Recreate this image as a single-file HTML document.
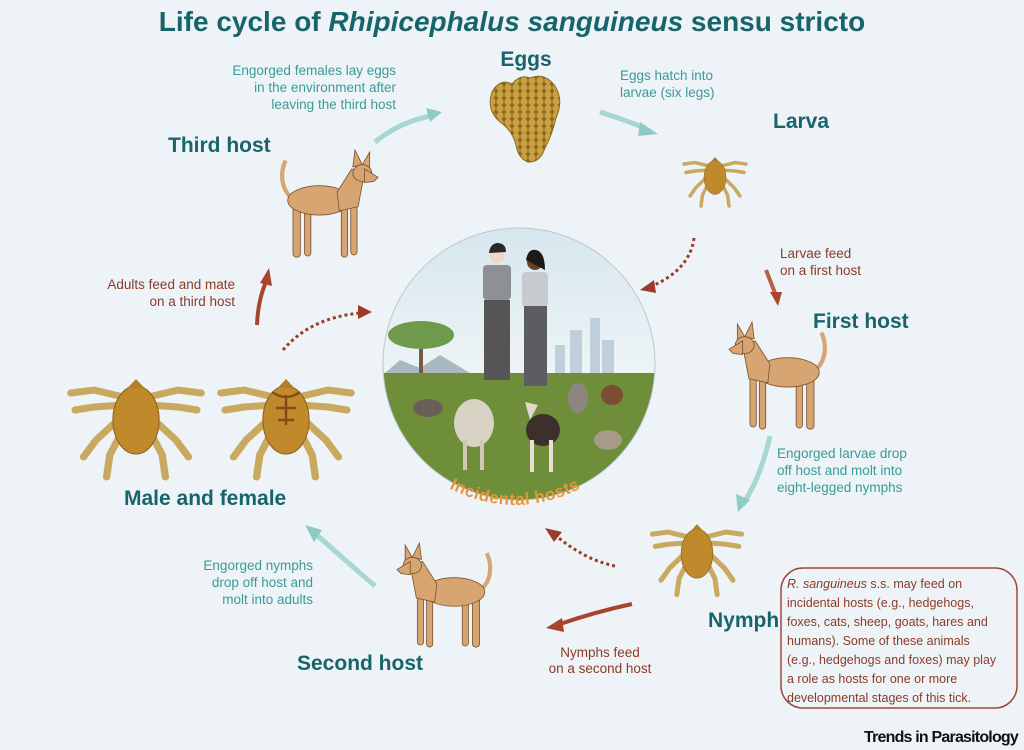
<!DOCTYPE html>
<html><head><meta charset="utf-8"><style>
html,body{margin:0;padding:0;background:#eef3f8;}
svg{display:block;font-family:"Liberation Sans",Arial,sans-serif;}
.tl{fill:#17656a;font-weight:bold;font-size:21px;}
.tt{fill:#3a9a97;font-size:13.5px;}
.rt{fill:#8a3b25;font-size:13.5px;}
</style></head><body>
<svg width="1024" height="750" viewBox="0 0 1024 750" xmlns="http://www.w3.org/2000/svg">
<defs>
<linearGradient id="sky" x1="0" y1="0" x2="0" y2="1"><stop offset="0" stop-color="#d6e6ee"/><stop offset="1" stop-color="#eef4f6"/></linearGradient>
<pattern id="egg" x="0" y="0" width="8" height="7" patternUnits="userSpaceOnUse">
 <rect width="8" height="7" fill="#8a6a20"/>
 <circle cx="4" cy="3.5" r="3.6" fill="#caa040"/>
</pattern>
<clipPath id="cc"><circle cx="519" cy="364" r="136"/></clipPath>
<g id="dog">
 <g fill="#d7a571" stroke="#7a5430" stroke-width="0.8">
 <path d="M17 44 C8 35 8 20 13 10" fill="none" stroke="#d7a571" stroke-width="4"/>
 <rect x="20" y="52" width="7" height="50" rx="3"/>
 <rect x="31" y="55" width="6" height="46" rx="3"/>
 <rect x="66" y="52" width="6" height="50" rx="3"/>
 <rect x="75" y="52" width="6" height="48" rx="3"/>
 <ellipse cx="45" cy="48" rx="30" ry="14"/>
 <path d="M62 40 L76 18 L88 22 L82 54 L64 58Z"/>
 <path d="M77 16 L79 0 L86 14Z"/>
 <path d="M86 14 L93 2 L93 18Z"/>
 <ellipse cx="86" cy="22" rx="9" ry="8"/>
 <path d="M88 18 L101 26 L97 30 L88 31Z"/>
 </g>
</g>
<g id="tick">
 <g stroke="#c9a860" stroke-width="7" stroke-linecap="round" fill="none">
  <path d="M-12 -18 L-40 -25 L-62 -22"/><path d="M12 -18 L40 -25 L62 -22"/>
  <path d="M-12 -10 L-40 -8 L-58 -5"/><path d="M12 -10 L40 -8 L58 -5"/>
  <path d="M-12 0 L-38 25 L-50 42"/><path d="M12 0 L38 25 L50 42"/>
  <path d="M-10 10 L-25 40 L-28 62"/><path d="M10 10 L25 40 L28 62"/>
 </g>
 <ellipse cx="0" cy="5" rx="22" ry="34" fill="#c08a2c" stroke="#8b6020" stroke-width="1"/>
 <path d="M-8 -27 L0 -36 L8 -27Z" fill="#b07f28"/>
</g>
</defs>
<rect width="1024" height="750" fill="#eef3f8"/>

<text x="512" y="31" text-anchor="middle" style="fill:#17656a;font-weight:bold;font-size:28px">Life cycle of <tspan font-style="italic">Rhipicephalus sanguineus</tspan> sensu stricto</text>

<!-- Eggs -->
<text x="526" y="66" text-anchor="middle" class="tl">Eggs</text>
<path d="M492 92 Q500 78 512 84 Q520 74 530 78 Q545 72 555 86 Q564 100 556 118 Q552 135 545 148 Q540 163 528 162 Q518 158 516 145 Q512 130 500 122 Q486 110 492 92Z" fill="url(#egg)" stroke="#8a6a20" stroke-width="1"/>

<text class="tt" text-anchor="end"><tspan x="396" y="75">Engorged females lay eggs</tspan><tspan x="396" y="92">in the environment after</tspan><tspan x="396" y="109">leaving the third host</tspan></text>
<path d="M375 142 Q400 122 430 116" stroke="#a8d6d3" stroke-width="5" fill="none"/>
<path d="M442 112 L426 108 L430 122Z" fill="#8fcac6"/>

<text class="tt"><tspan x="620" y="80">Eggs hatch into</tspan><tspan x="620" y="97">larvae (six legs)</tspan></text>
<path d="M600 112 Q625 120 645 128" stroke="#a8d6d3" stroke-width="5" fill="none"/>
<path d="M658 134 L640 122 L638 136Z" fill="#8fcac6"/>

<text x="773" y="128" class="tl">Larva</text>
<g transform="translate(715,175) scale(0.5)"><use href="#tick"/></g>

<path d="M694 238 Q690 270 650 287" stroke="#9b3b28" stroke-width="3" stroke-dasharray="3 3" fill="none"/>
<path d="M640 290 L654 280 L656 293Z" fill="#9b3b28"/>

<text class="rt"><tspan x="780" y="258">Larvae feed</tspan><tspan x="780" y="275">on a first host</tspan></text>
<path d="M766 270 Q772 285 776 296" stroke="#b5604a" stroke-width="4" fill="none"/>
<path d="M778 306 L770 292 L782 292Z" fill="#a8452c"/>

<text x="813" y="328" class="tl">First host</text>
<g transform="translate(835,322) scale(-1.05,1.05)"><use href="#dog"/></g>

<path d="M770 436 Q760 480 742 505" stroke="#a8d6d3" stroke-width="5" fill="none"/>
<path d="M738 512 L736 494 L750 500Z" fill="#8fcac6"/>
<text class="tt"><tspan x="777" y="458">Engorged larvae drop</tspan><tspan x="777" y="475">off host and molt into</tspan><tspan x="777" y="492">eight-legged nymphs</tspan></text>

<g transform="translate(697,550) scale(0.72)"><use href="#tick"/></g>
<text x="708" y="627" class="tl">Nymph</text>

<path d="M615 566 Q585 560 555 535" stroke="#9b3b28" stroke-width="3" stroke-dasharray="3 3" fill="none"/>
<path d="M545 528 L562 532 L554 542Z" fill="#9b3b28"/>

<path d="M632 604 Q595 612 560 624" stroke="#a8452c" stroke-width="4" fill="none"/>
<path d="M546 628 L562 618 L564 632Z" fill="#a8452c"/>
<text class="rt" text-anchor="middle"><tspan x="600" y="657">Nymphs feed</tspan><tspan x="600" y="673">on a second host</tspan></text>

<rect x="781" y="568" width="236" height="140" rx="22" fill="none" stroke="#9b4a3a" stroke-width="1.5"/>
<text class="rt" style="font-size:12.5px"><tspan x="787" y="588"><tspan font-style="italic">R. sanguineus</tspan> s.s. may feed on</tspan><tspan x="787" y="607">incidental hosts (e.g., hedgehogs,</tspan><tspan x="787" y="626">foxes, cats, sheep, goats, hares and</tspan><tspan x="787" y="645">humans). Some of these animals</tspan><tspan x="787" y="664">(e.g., hedgehogs and foxes) may play</tspan><tspan x="787" y="683">a role as hosts for one or more</tspan><tspan x="787" y="702">developmental stages of this tick.</tspan></text>

<text x="1018" y="742" text-anchor="end" style="font-weight:bold;font-size:16px;fill:#111;letter-spacing:-0.8px">Trends in Parasitology</text>

<g transform="translate(500,543) scale(-1.02,1.02)"><use href="#dog"/></g>
<text x="297" y="670" class="tl">Second host</text>
<text class="tt" text-anchor="end"><tspan x="313" y="570">Engorged nymphs</tspan><tspan x="313" y="587">drop off host and</tspan><tspan x="313" y="604">molt into adults</tspan></text>
<path d="M375 586 Q345 560 318 536" stroke="#a8d6d3" stroke-width="5" fill="none"/>
<path d="M305 525 L322 530 L314 542Z" fill="#8fcac6"/>

<text x="124" y="505" class="tl">Male and female</text>
<g transform="translate(136,415) scale(1.05,1.0)"><use href="#tick"/></g>
<g transform="translate(286,415) scale(1.05,1.0)"><use href="#tick"/></g>
<path d="M272 392 Q286 402 300 392 M286 395 L286 425 M276 408 L296 408 M278 420 L294 420" stroke="#8a4a18" stroke-width="2.5" fill="none"/>

<text class="rt" text-anchor="end"><tspan x="235" y="289">Adults feed and mate</tspan><tspan x="235" y="306">on a third host</tspan></text>
<path d="M257 325 Q258 300 266 282" stroke="#a8452c" stroke-width="4" fill="none"/>
<path d="M269 268 L272 286 L260 283Z" fill="#a8452c"/>
<path d="M283 350 Q310 318 360 313" stroke="#9b3b28" stroke-width="3" stroke-dasharray="3 3" fill="none"/>
<path d="M372 312 L358 305 L358 319Z" fill="#9b3b28"/>

<text x="168" y="152" class="tl">Third host</text>
<g transform="translate(272,150) scale(1.05)"><use href="#dog"/></g>

<!-- Incidental hosts circle -->
<g clip-path="url(#cc)">
<rect x="380" y="225" width="280" height="150" fill="url(#sky)"/>
<rect x="380" y="373" width="280" height="140" fill="#6e8e3a"/>
<g fill="#bfd0dc"><rect x="555" y="345" width="10" height="28"/><rect x="570" y="330" width="12" height="43"/><rect x="590" y="318" width="10" height="55"/><rect x="602" y="340" width="12" height="33"/></g>
<g fill="#aab8c2"><path d="M385 373 L400 360 L420 368 L440 355 L470 373Z"/></g>
<rect x="419" y="340" width="4" height="33" fill="#7a5a40"/>
<ellipse cx="421" cy="335" rx="33" ry="14" fill="#6f9a4c"/>
<g>
<circle cx="497" cy="255" r="8" fill="#efd9c4"/><path d="M489 253 Q490 244 497 243 Q506 243 506 252Z" fill="#2a2a2a"/>
<rect x="483" y="265" width="28" height="35" rx="4" fill="#8e9194"/>
<rect x="484" y="300" width="26" height="80" fill="#555"/>
<circle cx="535" cy="262" r="8" fill="#6b4028"/><path d="M526 260 Q528 248 536 250 Q545 252 545 270Z" fill="#1e1a18"/>
<rect x="522" y="272" width="26" height="35" rx="4" fill="#c8cbce"/>
<rect x="524" y="306" width="23" height="80" fill="#5b5d60"/>
</g>
<ellipse cx="428" cy="408" rx="15" ry="9" fill="#6c5f58"/>
<ellipse cx="474" cy="423" rx="20" ry="24" fill="#d9d3c6"/>
<rect x="463" y="440" width="4" height="30" fill="#d0c8b8"/><rect x="480" y="440" width="4" height="30" fill="#d0c8b8"/>
<ellipse cx="543" cy="430" rx="17" ry="16" fill="#3d2f2c"/>
<rect x="530" y="440" width="4" height="32" fill="#e8e0d6"/><rect x="549" y="440" width="4" height="32" fill="#e8e0d6"/>
<path d="M525 402 L530 420 L538 405Z" fill="#e0d8ce"/>
<ellipse cx="578" cy="398" rx="10" ry="15" fill="#8d8680"/>
<ellipse cx="612" cy="395" rx="11" ry="10" fill="#7a4e32"/>
<ellipse cx="608" cy="440" rx="14" ry="10" fill="#a89a88"/>
</g>
<circle cx="519" cy="364" r="136" fill="none" stroke="#b9c7d0" stroke-width="1"/>
<path id="arc" d="M420 470 Q515 540 610 470" fill="none"/>
<text style="fill:#e8963c;font-weight:bold;font-size:17px;letter-spacing:0.5px"><textPath href="#arc" startOffset="50%" text-anchor="middle">Incidental hosts</textPath></text>
</svg>
</body></html>
